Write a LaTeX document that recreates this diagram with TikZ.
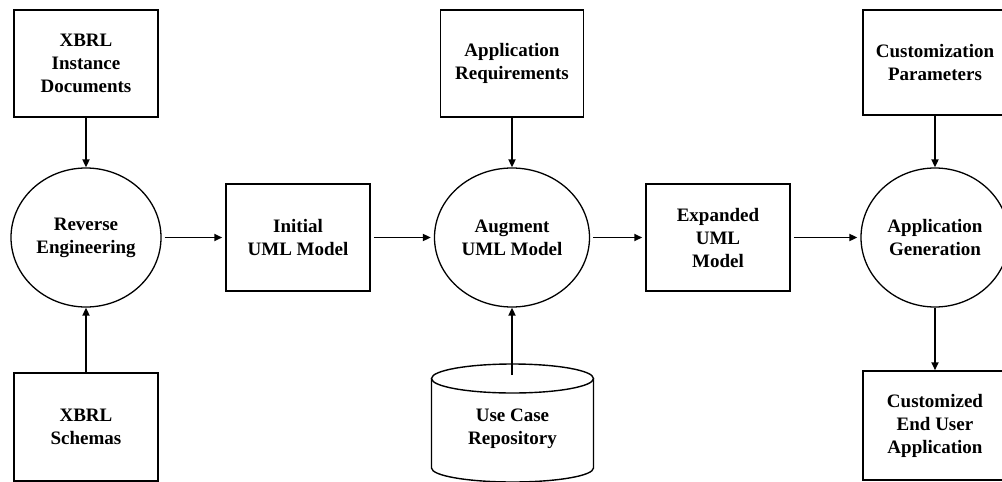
\documentclass[tikz,border=0pt]{standalone}
\usepackage{fontspec}
\setmainfont{Liberation Serif}
\usetikzlibrary{arrows.meta,shapes.geometric}
\begin{document}
\begin{tikzpicture}[x=1pt,y=-1pt,
  every node/.style={font=\bfseries\fontsize{19}{23}\selectfont, align=center, inner sep=0pt},
  boxnode/.style={draw, line width=1.5pt, minimum width=144pt, minimum height=107pt},
  procnode/.style={draw, ellipse, line width=1.3pt, minimum width=150pt, minimum height=139pt},
  arr/.style={-{Triangle[length=8pt,width=7pt]}, line width=1.8pt},
  harr/.style={arr, shorten <=3pt, shorten >=3pt}]
\useasboundingbox (0,0) rectangle (1002,482);
\clip (0,0) rectangle (1002,482);
\fill[white] (0,0) rectangle (1002,482);

% column 1
\node[boxnode] (xid) at (86,63.5) {XBRL\\Instance\\Documents};
\node[procnode] (rev) at (86,237.5) {Reverse\\Engineering};
\node[boxnode, minimum height=108pt] (xsc) at (86,427) {XBRL\\Schemas};

% column 2
\node[boxnode] (init) at (298,237.5) {Initial\\UML Model};

% column 3
\node[boxnode, minimum width=143pt] (req) at (512,63.5) {Application\\Requirements};
\node[procnode, minimum width=155pt] (aug) at (512,237.5) {Augment\\UML Model};
\draw[line width=1.4pt] (431.5,378.5) -- (431.5,468) arc[start angle=180, end angle=360, x radius=81pt, y radius=14pt] -- (593.5,378.5);
\draw[line width=1.4pt] (512.5,378.5) ellipse [x radius=81pt, y radius=14.5pt];
\node (uc) at (512.5,429) {Use Case\\Repository};
\coordinate (uctop) at (512,375);

% column 4
\node[boxnode] (exp) at (718,237.5) {Expanded\\UML\\Model};

% column 5
\node[boxnode, minimum height=105pt] (cust) at (935,62.5) {Customization\\Parameters};
\node[procnode, minimum width=148pt] (gen) at (935,237.5) {Application\\Generation};
\node[boxnode, minimum height=109pt] (cend) at (935,425.5) {Customized\\End User\\Application};

% connectors
\draw[arr] (xid.south) -- (rev.north);
\draw[arr] (xsc.north) -- (rev.south);
\draw[harr] (rev.east) -- (init.west);
\draw[harr] (init.east) -- (aug.west);
\draw[arr] (req.south) -- (aug.north);
\draw[arr] (uctop) -- (aug.south);
\draw[harr] (aug.east) -- (exp.west);
\draw[harr] (exp.east) -- (gen.west);
\draw[arr] (cust.south) -- (gen.north);
\draw[arr] (gen.south) -- (cend.north);
\end{tikzpicture}
\end{document}
